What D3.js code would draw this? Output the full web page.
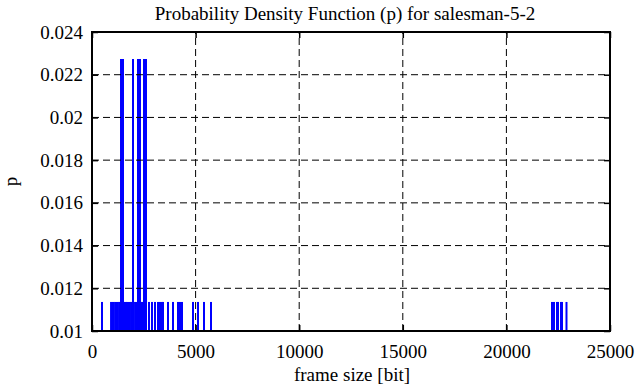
<!DOCTYPE html>
<html>
<head>
<meta charset="utf-8">
<script src="https://cdn.jsdelivr.net/npm/d3@7"></script>
<style>
  body { margin: 0; background: #fff; }
  svg { display: block; }
  text { font-family: "Liberation Serif", "DejaVu Serif", serif; fill: #000; }
  .tick line { stroke: #000; stroke-width: 1.5; }
  .grid line { stroke: #000; stroke-width: 1; stroke-dasharray: 7,4; }
</style>
</head>
<body>
<script>
// frame sizes [bit] seen once (p = 1/88)
var low_sizes = [483,
  920, 985, 1050, 1120, 1180, 1245, 1310, 1365, 1440, 1530, 1570, 1640, 1700,
  1765, 1830, 1890, 1945, 2020, 2090, 2140, 2190, 2260, 2350, 2400, 2460, 2550, 2590,
  2750, 2896, 3040, 3185, 3282, 3378, 3426, 3668, 3909, 4150, 4247, 4343,
  4874, 5116, 5405, 5743,
  22200, 22297, 22441, 22490, 22634, 22683, 22900]
// frame sizes [bit] seen twice (p = 2/88)
var high_sizes = [1400, 1496, 1979, 2220, 2316, 2510, 2606]
var p_low = 0.01136
var p_high = 0.02273

var x_ticks = [0, 5000, 10000, 15000, 20000, 25000]
var y_ticks = [0.01, 0.012, 0.014, 0.016, 0.018, 0.02, 0.022, 0.024]

var title_text = "Probability Density Function (p) for salesman-5-2"
var x_label = "frame size [bit]"
var y_label = "p"

var width = 636, height = 387
var margin = {left: 92, right: 26, top: 32, bottom: 56}
var serif = "'Liberation Serif', 'DejaVu Serif', serif"

var svg = d3.select("body").append("svg")
    .attr("width", width)
    .attr("height", height)

var x = d3.scaleLinear().domain([0, 25000]).range([margin.left, width - margin.right])
var y = d3.scaleLinear().domain([0.01, 0.024]).range([height - margin.bottom, margin.top])

var points = low_sizes.map(function(d){ return {size: d, p: p_low} })
  .concat(high_sizes.map(function(d){ return {size: d, p: p_high} }))

//impulses
svg.append("g").selectAll("line.imp")
    .data(points)
  .enter().append("line")
    .classed("imp", true)
    .attr("x1", function(d){ return x(d.size) })
    .attr("x2", function(d){ return x(d.size) })
    .attr("y1", y(0.01))
    .attr("y2", function(d){ return y(d.p) })
    .attr("stroke", "#0000ff")
    .attr("stroke-width", 2)

//grid
var grid = svg.append("g").classed("grid", true)
grid.selectAll("line.gx")
    .data(x_ticks.slice(1, -1))
  .enter().append("line")
    .attr("x1", function(d){ return x(d) })
    .attr("x2", function(d){ return x(d) })
    .attr("y1", y.range()[0])
    .attr("y2", y.range()[1])
grid.selectAll("line.gy")
    .data(y_ticks.slice(1, -1))
  .enter().append("line")
    .attr("y1", function(d){ return y(d) })
    .attr("y2", function(d){ return y(d) })
    .attr("x1", x.range()[0])
    .attr("x2", x.range()[1])

var fmt_y = function(d){ return String(+d.toFixed(3)) }
var fmt_x = d3.format("d")

//axes, ticks pointing inward
var ax_b = svg.append("g")
    .attr("transform", "translate(0," + y.range()[0] + ")")
    .call(d3.axisBottom(x).tickValues(x_ticks).tickFormat(fmt_x).tickSizeInner(-6).tickSizeOuter(0).tickPadding(14))
var ax_l = svg.append("g")
    .attr("transform", "translate(" + x.range()[0] + ",0)")
    .call(d3.axisLeft(y).tickValues(y_ticks).tickFormat(fmt_y).tickSizeInner(-6).tickSizeOuter(0).tickPadding(9))
var ax_t = svg.append("g")
    .attr("transform", "translate(0," + y.range()[1] + ")")
    .call(d3.axisTop(x).tickValues(x_ticks).tickSizeInner(-6).tickSizeOuter(0).tickFormat(""))
var ax_r = svg.append("g")
    .attr("transform", "translate(" + x.range()[1] + ",0)")
    .call(d3.axisRight(y).tickValues(y_ticks).tickSizeInner(-6).tickSizeOuter(0).tickFormat(""))

;[ax_b, ax_l, ax_t, ax_r].forEach(function(a){
  a.attr("font-family", serif).attr("font-size", 19)
  a.select(".domain").remove()
  a.selectAll("text").attr("fill", "#000")
})

//frame
svg.append("rect")
    .attr("x", x.range()[0])
    .attr("y", y.range()[1])
    .attr("width", x.range()[1] - x.range()[0])
    .attr("height", y.range()[0] - y.range()[1])
    .attr("fill", "none")
    .attr("stroke", "#000")
    .attr("stroke-width", 2)

//labels
svg.append("text")
    .attr("x", 345)
    .attr("y", 20)
    .attr("text-anchor", "middle")
    .attr("font-size", 19)
    .text(title_text)
svg.append("text")
    .attr("x", (x.range()[0] + x.range()[1]) / 2 + 1)
    .attr("y", 381)
    .attr("text-anchor", "middle")
    .attr("font-size", 19)
    .text(x_label)
svg.append("text")
    .attr("transform", "translate(17," + ((y.range()[0] + y.range()[1]) / 2) + ") rotate(-90)")
    .attr("text-anchor", "middle")
    .attr("font-size", 19)
    .text(y_label)
</script>
</body>
</html>
